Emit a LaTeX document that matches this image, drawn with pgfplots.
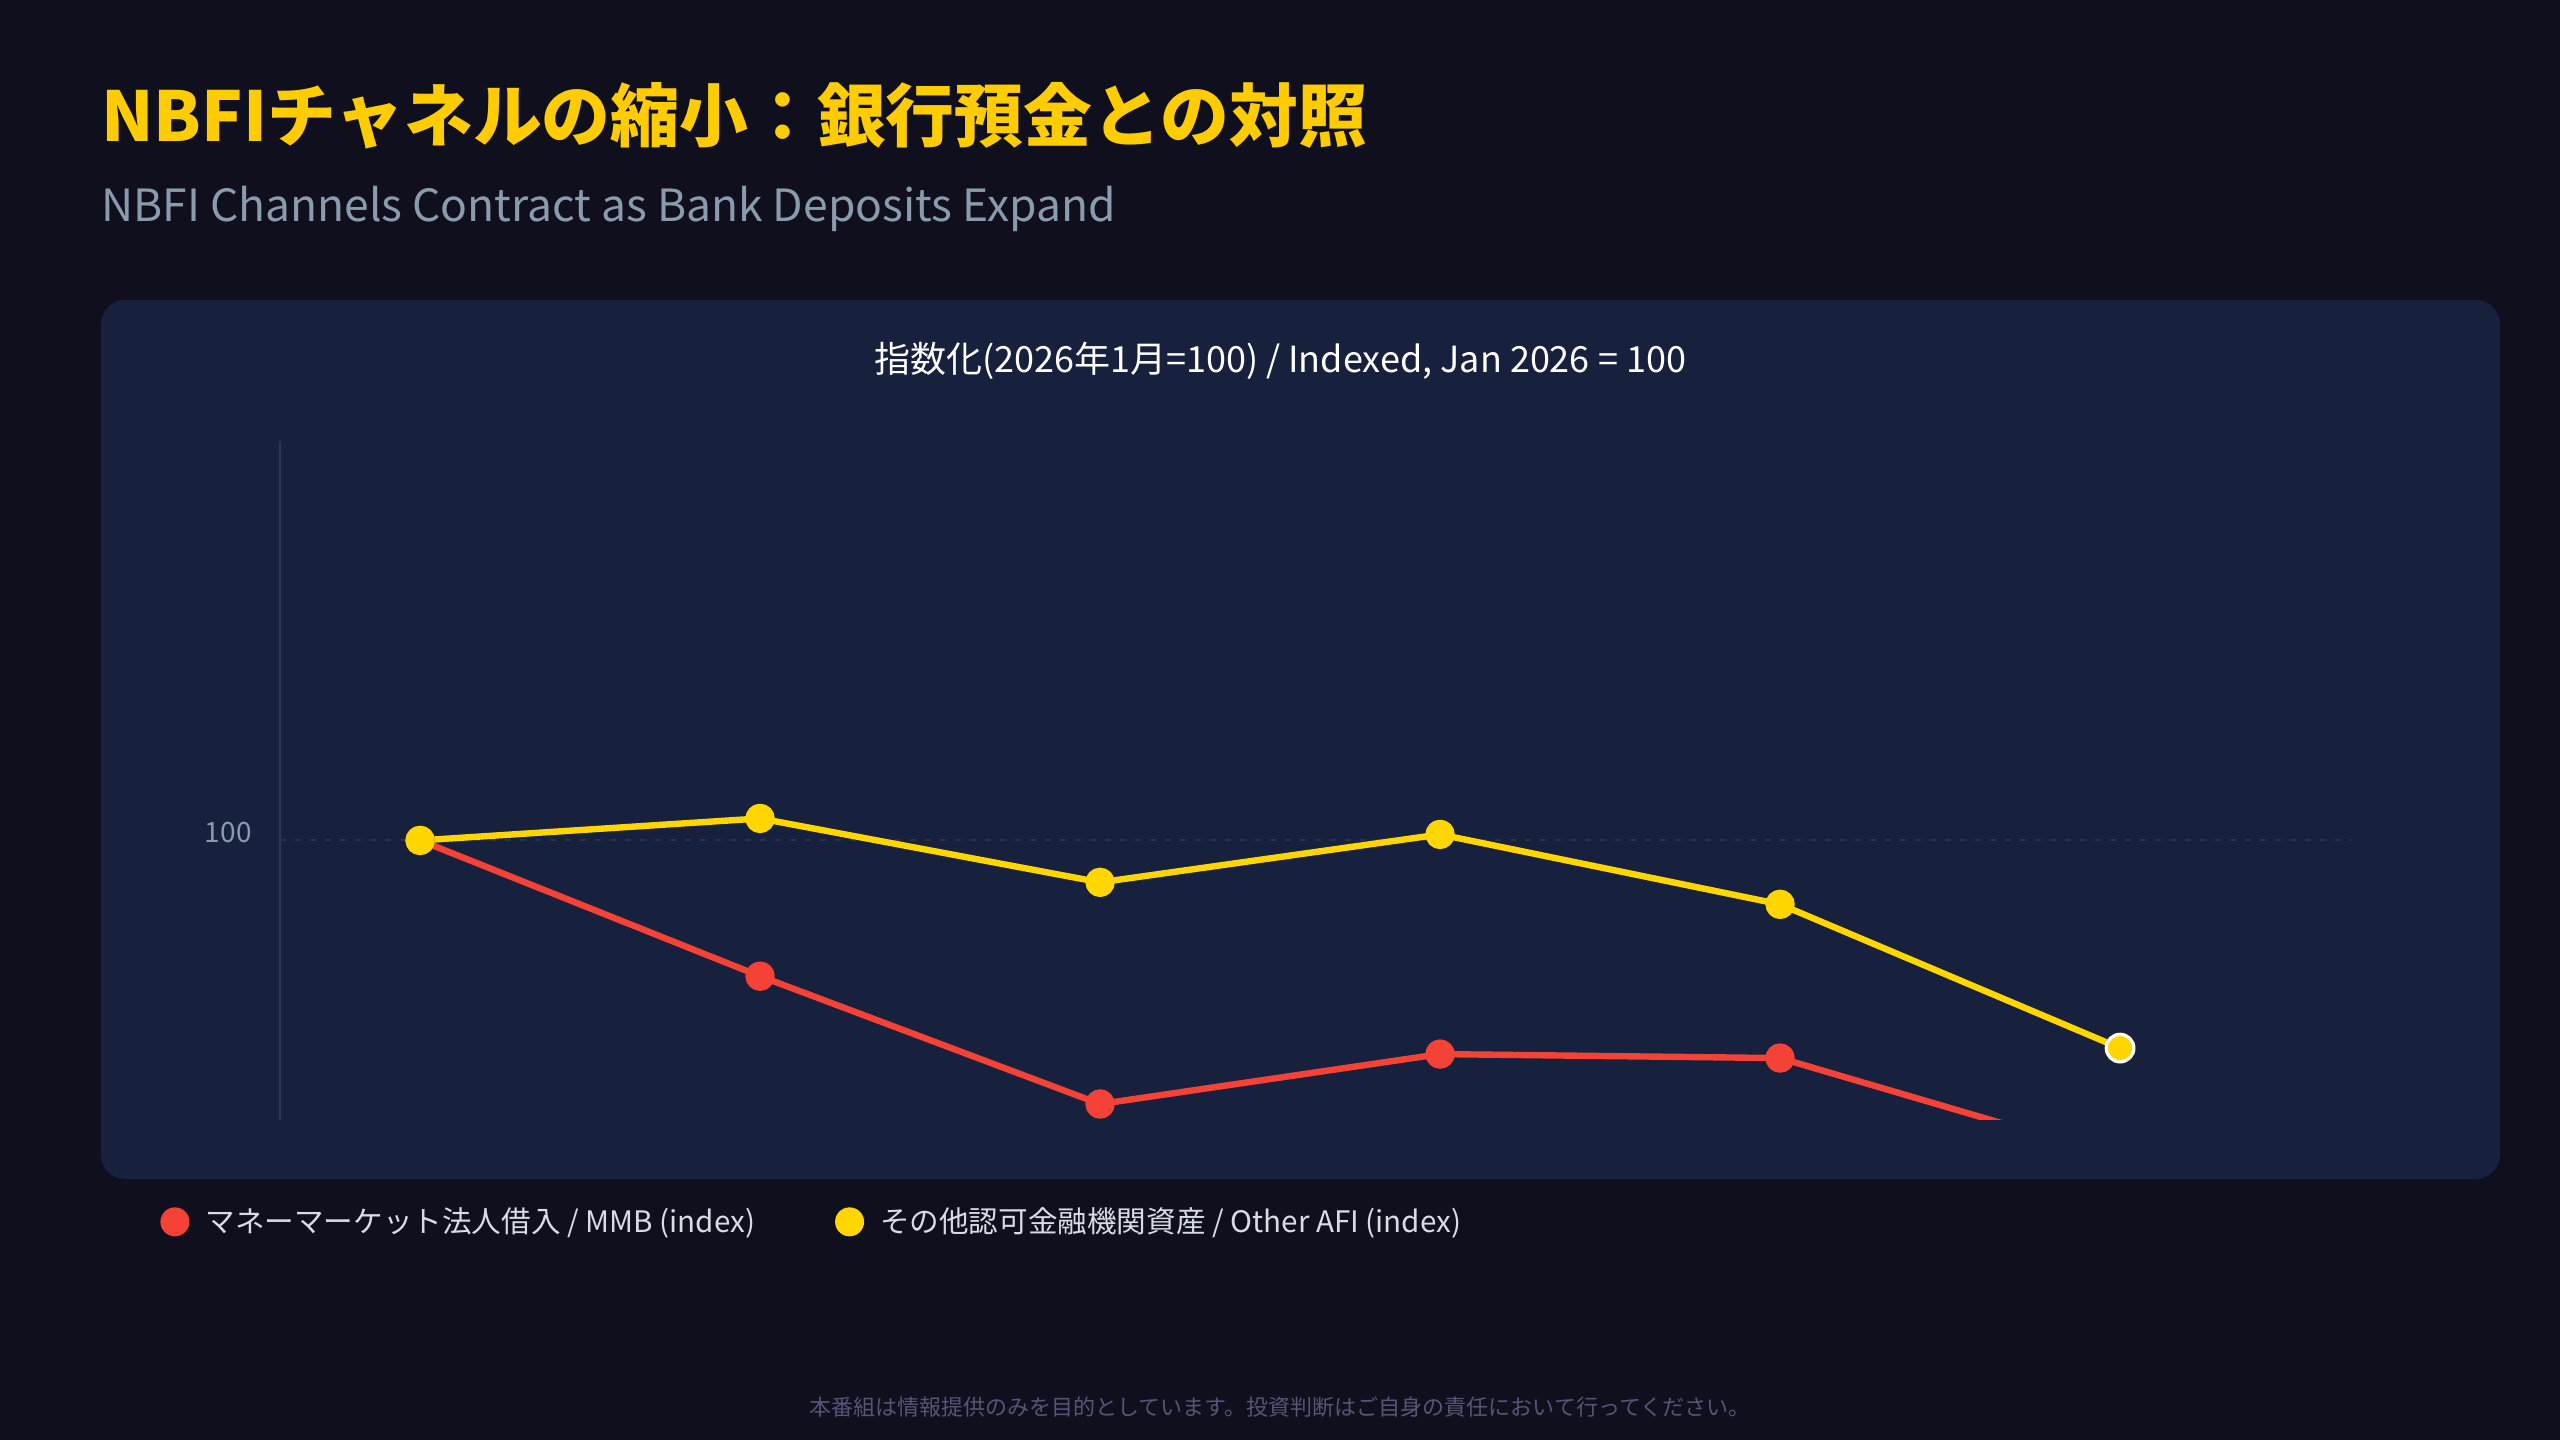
\documentclass[border=0pt]{standalone}
\usepackage{fontspec}
\setmainfont{Noto Sans CJK JP}
\usepackage{pgfplots}
\pgfplotsset{compat=1.18}

\definecolor{bg}{HTML}{0F0F1D}
\definecolor{panel}{HTML}{17203C}
\definecolor{ttl}{HTML}{FFCC00}
\definecolor{subttl}{HTML}{8A9BAD}
\definecolor{ylw}{HTML}{FFD600}
\definecolor{rd}{HTML}{F44336}
\definecolor{gridc}{HTML}{2E2F4C}
\definecolor{axc}{HTML}{30325A}
\definecolor{tickc}{HTML}{8A9AAE}
\definecolor{legc}{HTML}{D8DCE6}
\definecolor{footc}{HTML}{55557A}

\begin{document}
\begin{tikzpicture}
% canvas 2560x1440 px, 1 px = 0.5pt
\fill[bg] (0,0) rectangle (1280pt,720pt);
\fill[panel, rounded corners=12pt] (50.5pt,130.5pt) rectangle (1250pt,570pt);

\node[anchor=base west, inner sep=0pt, text=ttl, font=\fontsize{34.4}{40}\selectfont\bfseries]
  at (50.5pt,649pt) {NBFIチャネルの縮小：銀行預金との対照};
\node[anchor=base west, inner sep=0pt, text=subttl, font=\fontsize{22.2}{26}\selectfont]
  at (50.5pt,609pt) {NBFI Channels Contract as Bank Deposits Expand};
\node[anchor=base, inner sep=0pt, text=white, font=\fontsize{18}{22}\selectfont]
  at (640pt,533.5pt) {指数化(2026年1月=100) / Indexed, Jan 2026 = 100};
\node[anchor=base, inner sep=0pt, text=footc, font=\fontsize{11}{13}\selectfont]
  at (640pt,12pt) {本番組は情報提供のみを目的としています。投資判断はご自身の責任において行ってください。};

\begin{axis}[
  at={(140pt,160pt)}, anchor=south west,
  scale only axis, width=1036pt, height=339.5pt,
  xmin=-0.412, xmax=5.682, ymin=86, ymax=120,
  axis x line=none,
  axis y line*=left,
  y axis line style={-, draw=axc, line width=1pt},
  xtick=\empty,
  ytick={100},
  major tick length=0pt,
  ymajorgrids,
  grid style={draw=gridc, line width=1pt, dash pattern=on 3pt off 4.5pt},
  /pgf/number format/assume math mode=true,
  yticklabel style={text=tickc, font=\fontsize{14}{16}\selectfont, inner sep=0pt, xshift=-14pt, yshift=4pt},
  legend columns=2,
  legend style={at={(axis description cs:-0.0579,-0.150)}, anchor=west,
    draw=none, fill=none, inner sep=0pt, text=legc,
    font=\fontsize{14.8}{17}\selectfont,
    nodes={inner sep=0pt},
    /tikz/every odd column/.append style={column sep=8pt},
    /tikz/every even column/.append style={column sep=40pt}},
  legend image code/.code={\fill[#1, draw=none] (0pt,0pt) circle (7.25pt);},
]
\addplot[color=rd, line width=3.2pt, line join=round, mark=*, mark size=5.75pt,
  mark options={draw=none, fill=rd}] coordinates {
  (0,100) (1,93.2) (2,86.8) (3,89.3) (4,89.1) (5,84.1)
};
\addlegendentry{マネーマーケット法人借入 / MMB (index)}
\addplot[color=ylw, line width=3.2pt, line join=round, mark=*, mark size=5.75pt,
  mark options={draw=none, fill=ylw}] coordinates {
  (0,100) (1,101.1) (2,97.9) (3,100.3) (4,96.8) (5,89.6)
};
\addlegendentry{その他認可金融機関資産 / Other AFI (index)}
\addplot[forget plot, only marks, mark=*, mark size=6.9pt,
  mark options={fill=ylw, draw=white, line width=1.6pt}] coordinates {(5,89.6)};
\end{axis}
\end{tikzpicture}
\end{document}
